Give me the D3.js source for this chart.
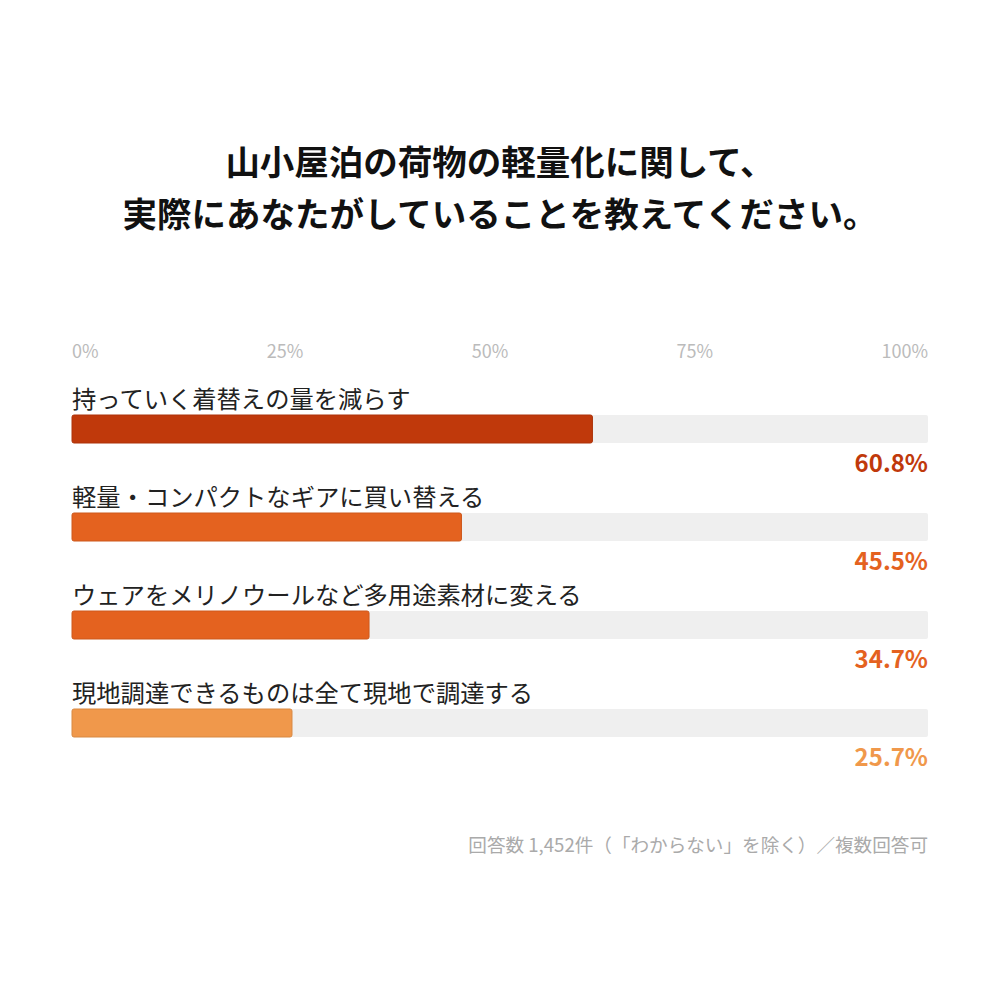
<!DOCTYPE html>
<html lang="ja">
<head>
    <meta charset="UTF-8">
    <title>山小屋泊の荷物の軽量化</title>
    <style>
        body { margin: 0; background: #fff; }
        svg { display: block; font-family: "Noto Sans CJK JP", "Noto Sans", sans-serif; text-spacing-trim: space-all; }
    </style>
</head>
<body>
    <script src="https://d3js.org/d3.v7.min.js"></script>
    <script>
        // Data
        const titleLines = ["山小屋泊の荷物の軽量化に関して、", "実際にあなたがしていることを教えてください。"];
        const categories = [
            "持っていく着替えの量を減らす",
            "軽量・コンパクトなギアに買い替える",
            "ウェアをメリノウールなど多用途素材に変える",
            "現地調達できるものは全て現地で調達する"
        ];
        const values = [60.8, 45.5, 34.7, 25.7];
        const barColors = ["#c0390b", "#e4621f", "#e4621f", "#f0984b"];
        const tickValues = [0, 25, 50, 75, 100];
        const note = "回答数 1,452件（「わからない」を除く）／複数回答可";

        // Dimensions
        const width = 1000, height = 1000;
        const left = 72, right = 928;
        const rowTop = 415, rowStep = 98, barH = 28;

        const svg = d3.select("body").append("svg")
            .attr("width", width)
            .attr("height", height);

        // Title
        svg.append("g").selectAll("text")
            .data(titleLines)
            .enter().append("text")
            .attr("x", width / 2)
            .attr("y", (d, i) => 175 + i * 52)
            .attr("text-anchor", "middle")
            .attr("font-size", 34.5)
            .attr("font-weight", "bold")
            .attr("fill", "#111")
            .text(d => d);

        const x = d3.scaleLinear().domain([0, 100]).range([left, right]);
        const y = d3.scaleBand().domain(categories)
            .range([rowTop, rowTop + rowStep * categories.length])
            .paddingInner(0).paddingOuter(0);

        // Tick labels spread across the width with equal gaps
        const ticks = svg.append("g").selectAll("text")
            .data(tickValues)
            .enter().append("text")
            .attr("y", 358)
            .attr("font-size", 18)
            .attr("fill", "#bbbbbb")
            .text(d => d + "%");
        const widths = [];
        ticks.each(function () { widths.push(this.getComputedTextLength()); });
        const gap = (x(100) - x(0) - d3.sum(widths)) / (tickValues.length - 1);
        let pos = x(0);
        ticks.attr("x", (d, i) => {
            const p = pos;
            pos += widths[i] + gap;
            return p;
        });

        const rows = svg.append("g").selectAll("g")
            .data(categories)
            .enter().append("g")
            .attr("transform", d => "translate(0," + y(d) + ")");

        // Category labels
        rows.append("text")
            .attr("x", x(0))
            .attr("y", -7)
            .attr("font-size", 24.3)
            .attr("fill", "#222")
            .text(d => d);

        // Track
        rows.append("rect")
            .attr("x", x(0))
            .attr("width", x(100) - x(0))
            .attr("height", barH)
            .attr("rx", 2)
            .attr("fill", "#efefef");

        // Bars
        rows.append("rect")
            .attr("x", x(0))
            .attr("width", (d, i) => x(values[i]) - x(0))
            .attr("height", barH)
            .attr("rx", 2)
            .attr("fill", (d, i) => barColors[i])
            .attr("stroke", (d, i) => d3.color(barColors[i]).darker(0.3))
            .attr("stroke-width", 1);

        // Value labels
        rows.append("text")
            .attr("x", x(100))
            .attr("y", 57)
            .attr("text-anchor", "end")
            .attr("font-size", 24)
            .attr("font-weight", "bold")
            .attr("fill", (d, i) => barColors[i])
            .text((d, i) => values[i].toFixed(1) + "%");

        // Footnote
        svg.append("text")
            .attr("x", x(100))
            .attr("y", 852)
            .attr("text-anchor", "end")
            .attr("font-size", 18.6)
            .attr("fill", "#aaaaaa")
            .text(note);
    </script>
</body>
</html>
